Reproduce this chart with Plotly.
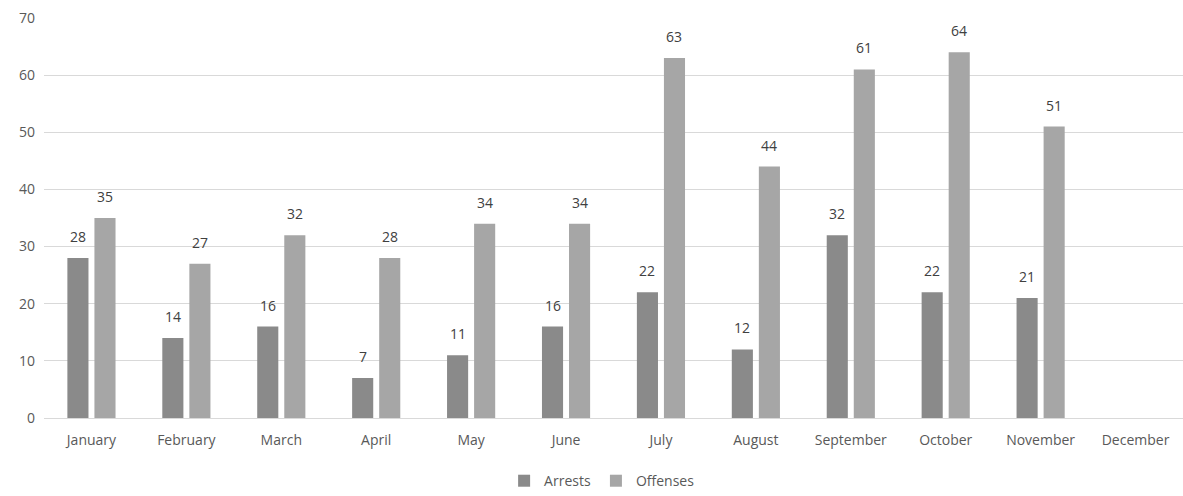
import plotly.graph_objects as go

months = ["January", "February", "March", "April", "May", "June", "July",
          "August", "September", "October", "November", "December"]
arrests = [28, 14, 16, 7, 11, 16, 22, 12, 32, 22, 21, None]
offenses = [35, 27, 32, 28, 34, 34, 63, 44, 61, 64, 51, None]

font_family = "Open Sans, DejaVu Sans, sans-serif"
label_font = dict(family=font_family, size=14, color="#404040")

fig = go.Figure()
fig.add_trace(go.Bar(
    name="Arrests", x=months, y=arrests,
    marker=dict(color="#8a8a8a", line=dict(width=0)),
))
fig.add_trace(go.Bar(
    name="Offenses", x=months, y=offenses,
    marker=dict(color="#a6a6a6", line=dict(width=0)),
))

# value labels above each bar, shifted to the bar's slot within its group
for vals, dx in ((arrests, -13.5), (offenses, 13.5)):
    for m, v in zip(months, vals):
        if v is None:
            continue
        fig.add_annotation(x=m, y=v, xref="x", yref="y", text=str(v),
                           showarrow=False, xshift=dx, yshift=10,
                           yanchor="bottom", font=label_font)

fig.update_layout(
    width=1183, height=496,
    margin=dict(l=44, r=0, t=18, b=78, autoexpand=False),
    paper_bgcolor="white", plot_bgcolor="white",
    barmode="group", bargap=0.43, bargroupgap=0.22,
    font=dict(family=font_family, size=12, color="#595959"),
    showlegend=True,
    legend=dict(orientation="h", x=0.49, xanchor="center",
                yref="container", y=0.03, yanchor="middle",
                font=dict(size=14, color="#595959"),
                itemwidth=30, traceorder="normal"),
)
fig.update_xaxes(showline=True, linecolor="#d9d9d9", linewidth=1,
                 ticks="", tickfont=dict(size=14, color="#595959"),
                 showgrid=False, ticklabelstandoff=9)
fig.update_yaxes(range=[0, 70], dtick=10, showgrid=True, gridcolor="#d9d9d9",
                 gridwidth=1, zeroline=False, ticks="",
                 tickfont=dict(size=14, color="#595959"), ticklabelstandoff=8)

fig.write_html("out.html")
